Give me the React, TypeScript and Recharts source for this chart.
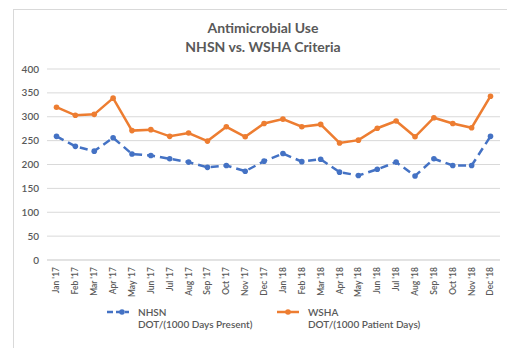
import { LineChart, Line, XAxis, YAxis, CartesianGrid } from 'recharts'

const months = [
  "Jan '17", "Feb '17", "Mar '17", "Apr '17", "May '17", "Jun '17",
  "Jul '17", "Aug '17", "Sep '17", "Oct '17", "Nov '17", "Dec '17",
  "Jan '18", "Feb '18", "Mar '18", "Apr '18", "May '18", "Jun '18",
  "Jul '18", "Aug '18", "Sep '18", "Oct '18", "Nov '18", "Dec '18",
]
const nhsn = [259, 238, 228, 256, 222, 219, 212, 205, 194, 198, 186, 207,
  223, 206, 211, 184, 177, 190, 205, 176, 212, 198, 198, 259]
const wsha = [320, 303, 305, 339, 271, 273, 259, 266, 249, 279, 258, 286,
  295, 279, 284, 245, 251, 276, 291, 258, 298, 286, 277, 343]
const yTicks = [0, 50, 100, 150, 200, 250, 300, 350, 400]

const seriesInfo = [
  { key: 'nhsn', name: 'NHSN', sub: 'DOT/(1000 Days Present)', color: '#4472C4', dash: '8 5' },
  { key: 'wsha', name: 'WSHA', sub: 'DOT/(1000 Patient Days)', color: '#ED7D31', dash: undefined },
]

const data = months.map((m, i) => ({ month: m, nhsn: nhsn[i], wsha: wsha[i] }))

const FONT = 'Lato, "Open Sans", sans-serif'
const TEXT = '#595959'

function MonthTick({ x, y, payload }: any) {
  return (
    <text
      x={x}
      y={y - 1}
      transform={`rotate(-90 ${x} ${y - 1})`}
      textAnchor="end"
      dy="0.35em"
      fontSize={8.5}
      fontWeight={600}
      fill={TEXT}
      fontFamily={FONT}
    >
      {payload.value}
    </text>
  )
}

// legend: two entries, name on first line, unit on the second
function ChartLegend() {
  const xs = [107, 277]
  return (
    <div style={{ position: 'absolute', left: 0, top: 306, width: 507, height: 40 }}>
      {seriesInfo.map((s, i) => (
        <div key={s.key} style={{ position: 'absolute', left: xs[i], top: 0 }}>
          <svg width={24} height={10} style={{ position: 'absolute', left: 0, top: 1 }}>
            <line x1={0} y1={5} x2={22} y2={5} stroke={s.color} strokeWidth={2.5}
              strokeDasharray={s.dash ? '6 3' : undefined} />
            <circle cx={s.dash ? 15 : 11} cy={5} r={2.8} fill={s.color} />
          </svg>
          <div style={{ position: 'absolute', left: 31, top: 0, whiteSpace: 'nowrap',
            fontFamily: FONT, fontSize: 10, fontWeight: 600, color: TEXT, lineHeight: '12px' }}>
            {s.name}
            <div>{s.sub}</div>
          </div>
        </div>
      ))}
    </div>
  )
}

export default function App() {
  return (
    <div style={{ position: 'absolute', left: 0, top: 0, width: 507, height: 348, background: '#fff', overflow: 'hidden' }}>
      <div style={{ position: 'absolute', left: 13, top: 9, width: 510, height: 350, border: '1px solid #D9D9D9' }} />
      <div style={{ position: 'absolute', left: 13, top: 18, width: 500, textAlign: 'center',
        fontFamily: FONT, fontSize: 14, fontWeight: 700, color: TEXT, lineHeight: '19px' }}>
        Antimicrobial Use
        <br />
        NHSN vs. WSHA Criteria
      </div>
      <div style={{ position: 'absolute', left: 0, top: 0 }}>
        <LineChart width={507} height={348} data={data} margin={{ top: 69, right: 7, bottom: 48, left: 0 }}>
          <CartesianGrid vertical={false} stroke="#D9D9D9" />
          <XAxis
            dataKey="month"
            interval={0}
            height={40}
            padding={{ left: 9.5, right: 9.5 }}
            tickLine={false}
            axisLine={{ stroke: '#D9D9D9' }}
            tick={<MonthTick />}
          />
          <YAxis
            width={47}
            domain={[0, 400]}
            ticks={yTicks}
            axisLine={false}
            tickLine={false}
            tick={{ fontSize: 10, fontWeight: 600, fill: TEXT, fontFamily: FONT }}
          />
          {seriesInfo.map((s) => (
            <Line
              key={s.key}
              dataKey={s.key}
              name={s.name}
              type="linear"
              stroke={s.color}
              strokeWidth={2.5}
              strokeDasharray={s.dash}
              dot={{ r: 2.8, fill: s.color, stroke: s.color, strokeWidth: 0 }}
              isAnimationActive={false}
            />
          ))}
        </LineChart>
      </div>
      <ChartLegend />
    </div>
  )
}
